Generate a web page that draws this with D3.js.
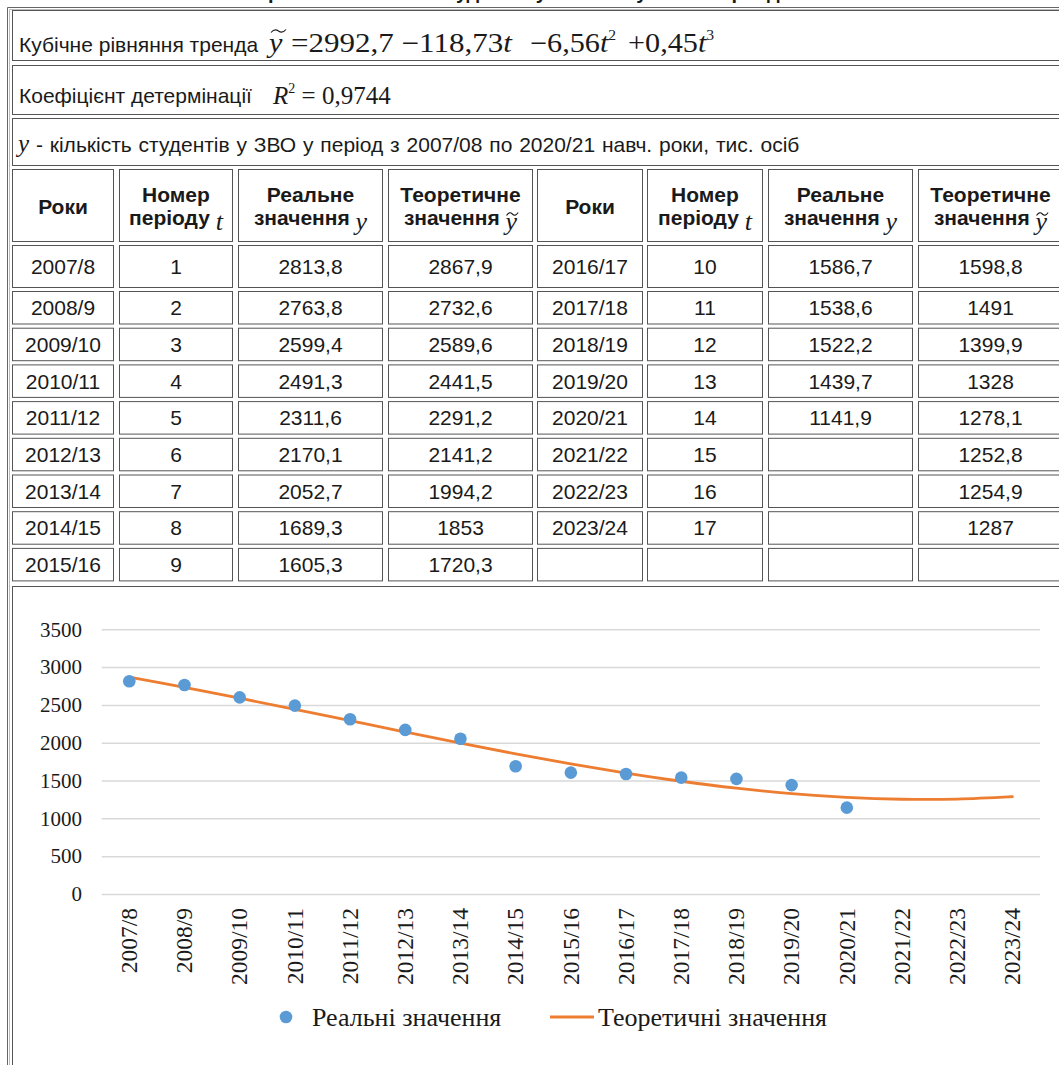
<!DOCTYPE html>
<html><head><meta charset="utf-8">
<script src="https://cdn.jsdelivr.net/npm/d3@7"></script>
<style>html,body{margin:0;padding:0;background:#fff;overflow:hidden}</style>
</head><body>
<script>
// ---------- data ----------
const years = ["2007/8","2008/9","2009/10","2010/11","2011/12","2012/13","2013/14","2014/15","2015/16","2016/17","2017/18","2018/19","2019/20","2020/21","2021/22","2022/23","2023/24"];
const periods = [1,2,3,4,5,6,7,8,9,10,11,12,13,14,15,16,17];
const realValues = [2813.8,2763.8,2599.4,2491.3,2311.6,2170.1,2052.7,1689.3,1605.3,1586.7,1538.6,1522.2,1439.7,1141.9];
const theoryValues = [2867.9,2732.6,2589.6,2441.5,2291.2,2141.2,1994.2,1853,1720.3,1598.8,1491,1399.9,1328,1278.1,1252.8,1254.9,1287];
const yTicks = [0,500,1000,1500,2000,2500,3000,3500];
const headLine1 = ["Роки","Номер","Реальне","Теоретичне"];
const headLine2 = ["","періоду ","значення ","значення "];
const headSymbol = ["","t","y","y~"];
const seriesNames = ["Реальні значення","Теоретичні значення"];

// ---------- setup ----------
const SANS = "'Liberation Sans', Arial, sans-serif";
const SERIF = "'Liberation Serif', 'Times New Roman', serif";
const INK = "#1a1a1a";
const svg = d3.select("body").append("svg").attr("width",1059).attr("height",1065)
  .style("font-family",SANS);

const fmt = v => (v===undefined||v===null) ? "" : String(v).replace(".",",");

function tilde(x0, w, yc){
  svg.append("path")
    .attr("d",`M${x0},${yc+1.5} Q${x0+w*0.25},${yc-3} ${x0+w*0.5},${yc} Q${x0+w*0.75},${yc+3} ${x0+w},${yc-1.5}`)
    .attr("fill","none").attr("stroke",INK).attr("stroke-width",1.1);
}

// cut-off title at very top (only descenders visible, as in the reference)
svg.append("text").attr("x",530).attr("y",-1).attr("text-anchor","middle")
  .attr("font-weight","bold").attr("font-size",20).attr("fill",INK)
  .text("Прогноз кількості студентів у ЗВО за кубічним трендом");

// outer table frame
svg.append("path").attr("d","M7.5,1065 V7.5 H1059").attr("fill","none").attr("stroke","#666");
svg.append("path").attr("d","M9.5,1065 V9.5 H1059").attr("fill","none").attr("stroke","#bbb");

function cell(x,y,w,h){
  svg.append("rect").attr("x",x+0.5).attr("y",y+0.5).attr("width",w-1).attr("height",h-1)
    .attr("fill","none").attr("stroke","#555");
}

// ---------- info rows ----------
cell(12,10,1070,51);
cell(12,65,1070,50);
cell(12,118,1070,48);

svg.append("text").attr("x",19).attr("y",52).attr("font-size",21).attr("fill",INK).text("Кубічне рівняння тренда");
const eqParts = [
  {x:269, k:1.12, s:[["y","italic"]]},
  {x:291, k:1.15, s:[["=2992,7 −118,73",""],["t","italic"]]},
  {x:530, k:1.12, s:[["−6,56",""],["t","italic"],["2","sup"]]},
  {x:628, k:1.12, s:[["+0,45",""],["t","italic"],["3","sup"]]}
];
eqParts.forEach(p=>{
  const t = svg.append("text").attr("transform",`translate(${p.x},52) scale(${p.k},1)`)
    .attr("font-family",SERIF).attr("font-size",27).attr("fill",INK);
  p.s.forEach(([str,st])=>{
    const ts = t.append("tspan").text(str);
    if(st==="italic") ts.attr("font-style","italic");
    if(st==="sup") ts.attr("font-size",14).attr("dy",-12);
  });
});
tilde(271,15,31);

svg.append("text").attr("x",19).attr("y",103).attr("font-size",21).attr("fill",INK).text("Коефіцієнт детермінації");
{
  const t = svg.append("text").attr("x",273).attr("y",104).attr("font-family",SERIF).attr("font-size",25).attr("fill",INK);
  t.append("tspan").attr("font-style","italic").text("R");
  t.append("tspan").attr("font-size",14).attr("dy",-11).text("2");
  t.append("tspan").attr("dy",11).text(" = 0,9744");
}

{
  const t = svg.append("text").attr("x",18).attr("y",152).attr("fill",INK);
  t.append("tspan").attr("font-family",SERIF).attr("font-style","italic").attr("font-size",25).text("y");
  t.append("tspan").attr("font-size",21).attr("word-spacing",1).text(" - кількість студентів у ЗВО у період з 2007/08 по 2020/21 навч. роки, тис. осіб");
}

// ---------- table ----------
const colX = [12,119,238,388,537,647,768,918];
const colW = [102,114,145,145,106,116,145,145];
const headTop = 169, headH = 73;
colX.forEach((x,i)=>{
  cell(x,headTop,colW[i],headH);
  const k = i%4, cx = x+colW[i]/2;
  if(k===0){
    svg.append("text").attr("x",cx).attr("y",214).attr("text-anchor","middle")
      .attr("font-weight","bold").attr("font-size",21).attr("fill",INK).text(headLine1[k]);
  } else {
    svg.append("text").attr("x",cx).attr("y",202).attr("text-anchor","middle")
      .attr("font-weight","bold").attr("font-size",21).attr("fill",INK).text(headLine1[k]);
    const t = svg.append("text").attr("x",cx).attr("y",225).attr("text-anchor","middle").attr("fill",INK);
    t.append("tspan").attr("font-weight","bold").attr("font-size",21).text(headLine2[k]);
    const sym = headSymbol[k].replace("~","");
    t.append("tspan").attr("font-family",SERIF).attr("font-style","italic").attr("font-size",26).attr("dy",5).text(sym);
    if(headSymbol[k].includes("~")){
      const n = headLine2[k].length;
      const ext = t.node().getExtentOfChar(n);
      tilde(ext.x+1, ext.width, 214);
    }
  }
});

// row geometry: first data row is taller in the reference
const rowTops = [], rowHs = [];
for(let r=0;r<9;r++){
  if(r===0){ rowTops.push(245); rowHs.push(43); }
  else { rowTops.push(291 + (r-1)*36.7); rowHs.push(33.5); }
}
for(let r=0;r<9;r++){
  const top = rowTops[r], h = rowHs[r];
  for(let half=0;half<2;half++){
    const idx = r + half*9;
    const vals = idx<years.length ? [years[idx], periods[idx], fmt(realValues[idx]), fmt(theoryValues[idx])] : ["","","",""];
    for(let k=0;k<4;k++){
      const ci = half*4+k;
      cell(colX[ci], top, colW[ci], h);
      svg.append("text").attr("x",colX[ci]+colW[ci]/2).attr("y",top+h/2+7.5)
        .attr("text-anchor","middle").attr("font-size",21).attr("fill",INK).text(vals[k]);
    }
  }
}

// chart cell
cell(12,586,1070,520);

// ---------- chart ----------
const x = d3.scaleBand().domain(years).range([101.7,1040]).padding(0);
const y = d3.scaleLinear().domain([0,3500]).range([894,629.3]);
const cxOf = i => x(years[i]) + x.bandwidth()/2;

const gy = svg.append("g").attr("transform","translate(101.7,0)")
  .call(d3.axisLeft(y).tickValues(yTicks).tickSize(-(1040-101.7)).tickPadding(19.7).tickFormat(d3.format("d")));
gy.select(".domain").remove();
gy.selectAll(".tick line").attr("stroke","#d9d9d9").attr("stroke-width",1.5);
gy.selectAll(".tick text").attr("font-family",SERIF).attr("font-size",21).attr("fill",INK);

const gx = svg.append("g").attr("transform","translate(0,894)")
  .call(d3.axisBottom(x).tickSize(0).tickPadding(0));
gx.select(".domain").remove();
gx.selectAll(".tick text")
  .attr("font-family",SERIF).attr("font-size",23.5).attr("fill",INK)
  .attr("transform","rotate(-90)").attr("text-anchor","end")
  .attr("x",-14).attr("y",0).attr("dy","0.33em");

const line = d3.line().x((d,i)=>cxOf(i)).y(d=>y(d)).curve(d3.curveCatmullRom.alpha(0.5));
svg.append("path").datum(theoryValues).attr("d",line)
  .attr("fill","none").attr("stroke","#ED7D31").attr("stroke-width",2.8).attr("stroke-linecap","round");

svg.append("g").selectAll("circle").data(realValues).join("circle")
  .attr("cx",(d,i)=>cxOf(i)).attr("cy",d=>y(d)).attr("r",6.3).attr("fill","#5B9BD5");

// legend
svg.append("circle").attr("cx",286).attr("cy",1017).attr("r",6.3).attr("fill","#5B9BD5");
svg.append("text").attr("x",312).attr("y",1026).attr("font-family",SERIF).attr("font-size",26).attr("fill",INK).text(seriesNames[0]);
svg.append("line").attr("x1",550).attr("x2",594).attr("y1",1017).attr("y2",1017).attr("stroke","#ED7D31").attr("stroke-width",2.8);
svg.append("text").attr("x",598).attr("y",1026).attr("font-family",SERIF).attr("font-size",26).attr("fill",INK).text(seriesNames[1]);
</script>
</body></html>
